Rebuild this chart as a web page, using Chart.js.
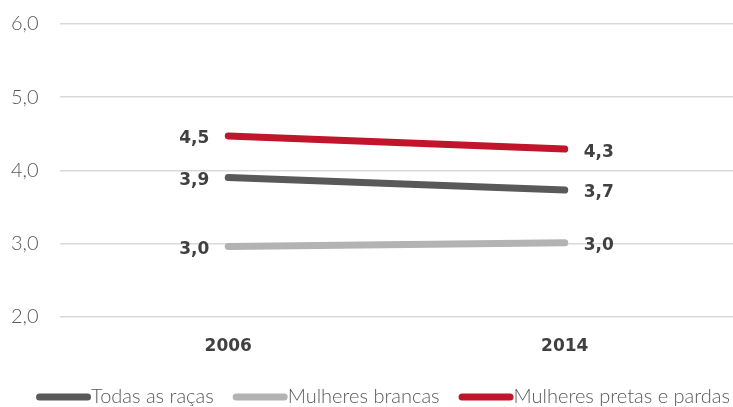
<!DOCTYPE html>
<html>
<head>
<meta charset="utf-8">
<script src="https://cdn.jsdelivr.net/npm/chart.js@4"></script>
<style>
html,body{margin:0;padding:0;background:#fff;}
#wrap{width:733px;height:407px;position:relative;}
</style>
</head>
<body>
<div id="wrap"><canvas id="c"></canvas></div>
<script>
const categories = ["2006", "2014"];
const seriesNames = ["Todas as raças", "Mulheres brancas", "Mulheres pretas e pardas"];
const todasAsRacas = [3.9, 3.73];
const mulheresBrancas = [2.96, 3.01];
const mulheresPretasPardas = [4.47, 4.29];
const yTicks = [2, 3, 4, 5, 6];

const colors = ["#595959", "#b3b3b3", "#c0152a"];
const FONT = "Lato, 'Open Sans', sans-serif";
const BOLD = "'DejaVu Sans', sans-serif";

function fmt(v){ return v.toFixed(1).replace('.', ','); }

const valueLabels = {
  id: 'valueLabels',
  afterDatasetsDraw(chart){
    const ctx = chart.ctx;
    ctx.save();
    ctx.font = "bold 17px " + BOLD;
    ctx.fillStyle = "#404040";
    ctx.textBaseline = "middle";
    chart.data.datasets.forEach((ds, i) => {
      const meta = chart.getDatasetMeta(i);
      meta.data.forEach((pt, j) => {
        const txt = fmt(ds.data[j]);
        if (j === 0){ ctx.textAlign = "right"; ctx.fillText(txt, pt.x - 19, pt.y + 3); }
        else { ctx.textAlign = "left"; ctx.fillText(txt, pt.x + 19, pt.y + 3); }
      });
    });
    ctx.restore();
  }
};

const customLegend = {
  id: 'customLegend',
  afterDraw(chart){
    const ctx = chart.ctx;
    ctx.save();
    ctx.font = "300 20px " + FONT;
    const sw = 55, gap = 19, y = 397;
    const items = chart.data.datasets.map(ds => ({ text: ds.label, color: ds.borderColor, w: ctx.measureText(ds.label).width }));
    const total = items.reduce((s, it) => s + sw + it.w, 0) + gap * (items.length - 1);
    let x = 383 - total / 2;
    ctx.textBaseline = "middle";
    ctx.textAlign = "left";
    items.forEach(it => {
      ctx.strokeStyle = it.color;
      ctx.lineWidth = 7;
      ctx.lineCap = "round";
      ctx.beginPath();
      ctx.moveTo(x + 3.5, y);
      ctx.lineTo(x + sw - 3.5, y);
      ctx.stroke();
      ctx.fillStyle = "#595959";
      ctx.fillText(it.text, x + sw, y);
      x += sw + it.w + gap;
    });
    ctx.restore();
  }
};

const mk = (label, data, color) => ({
  label, data,
  borderColor: color, backgroundColor: color,
  borderWidth: 7, borderCapStyle: 'round',
  pointRadius: 0, pointHoverRadius: 0, tension: 0, fill: false
});

new Chart(document.getElementById('c'), {
  type: 'line',
  data: {
    labels: categories,
    datasets: [
      mk(seriesNames[0], todasAsRacas, colors[0]),
      mk(seriesNames[1], mulheresBrancas, colors[1]),
      mk(seriesNames[2], mulheresPretasPardas, colors[2])
    ]
  },
  plugins: [valueLabels, customLegend],
  options: {
    responsive: true,
    maintainAspectRatio: false,
    animation: false,
    layout: { padding: { left: 11, right: -6, top: 4, bottom: 30 } },
    plugins: {
      tooltip: { enabled: false },
      legend: { display: false }
    },
    scales: {
      x: {
        offset: true,
        grid: { display: false, drawTicks: false },
        border: { display: false },
        ticks: { color: "#404040", padding: 20, font: { family: BOLD, size: 17, weight: 'bold' } }
      },
      y: {
        min: 2, max: 6,
        afterBuildTicks(axis){ axis.ticks = yTicks.map(v => ({ value: v })); },
        afterFit(axis){ axis.width = 49; },
        grid: { color: "#d9d9d9", lineWidth: 1.5, drawTicks: false },
        border: { display: false },
        ticks: { color: "#595959", padding: 12, crossAlign: 'far', callback: v => fmt(v), font: { family: FONT, size: 20, weight: 300 } }
      }
    }
  }
});
</script>
</body>
</html>
